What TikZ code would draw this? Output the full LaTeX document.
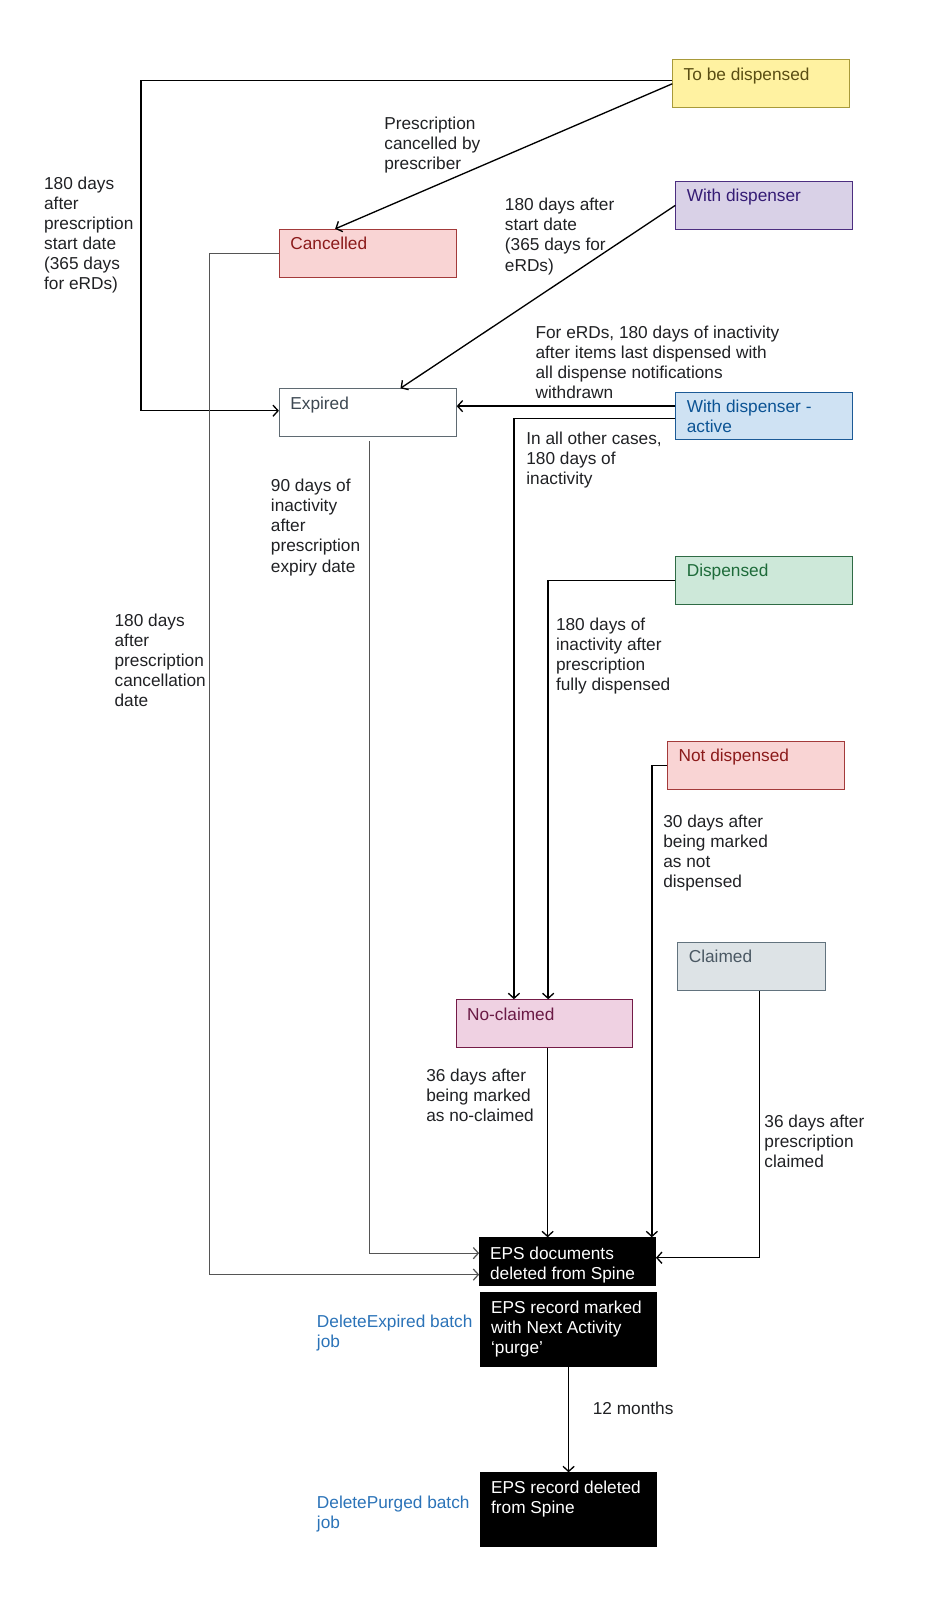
\documentclass[tikz,border=0pt]{standalone}
\usepackage{fontspec}
\setmainfont{Liberation Sans}
\usetikzlibrary{arrows.meta,calc}
\newcommand\lblfont{\fontsize{16.9}{19.6}\selectfont}
\definecolor{txt}{HTML}{202124}
\definecolor{ylwF}{HTML}{FFF2A1}\definecolor{ylwD}{HTML}{A89A3A}\definecolor{ylwT}{HTML}{5A4E14}
\definecolor{purF}{HTML}{D9D1E7}\definecolor{purD}{HTML}{4C2E80}\definecolor{purT}{HTML}{351C75}
\definecolor{redF}{HTML}{F9D4D4}\definecolor{redD}{HTML}{A33A3A}\definecolor{redT}{HTML}{8B1A1A}
\definecolor{gryD}{HTML}{5F6A72}\definecolor{gryT}{HTML}{3D4852}
\definecolor{bluF}{HTML}{CFE2F3}\definecolor{bluD}{HTML}{1C5A96}\definecolor{bluT}{HTML}{0B5394}
\definecolor{grnF}{HTML}{CDE8D9}\definecolor{grnD}{HTML}{2F6B45}\definecolor{grnT}{HTML}{1E6B3A}
\definecolor{clF}{HTML}{DDE3E6}\definecolor{clD}{HTML}{62737E}\definecolor{clT}{HTML}{4A5863}
\definecolor{magF}{HTML}{EFD1E2}\definecolor{magD}{HTML}{741B47}\definecolor{magT}{HTML}{6A1A45}
\definecolor{batch}{HTML}{2B73B8}
\definecolor{lgray}{HTML}{555555}
\tikzset{
  box/.style={rectangle, anchor=north west, inner sep=0pt, line width=1pt, minimum width=173pt, minimum height=47pt},
  boxtxt/.style={anchor=north west, inner sep=0pt, align=left, font=\lblfont},
  lbl/.style={anchor=north west, inner sep=0pt, align=left, font=\lblfont, text=txt},
  arr/.style={-{Straight Barb[length=5pt,width=11pt]}},
  blk/.style={draw=black, line width=1.3pt},
  gry/.style={draw=lgray, line width=1.2pt},
}
\begin{document}
\begin{tikzpicture}[x=1pt,y=-1pt]
\useasboundingbox (0,0) rectangle (915,1566);

% state boxes
\node[box, fill=ylwF, draw=ylwD] (tbd) at (658,58) {};
\node[boxtxt, text=ylwT] (tbdT) at ([shift={(11,8)}]tbd.north west) {To be dispensed};
\node[box, fill=purF, draw=purD] (wd) at (661,177) {};
\node[boxtxt, text=purT] (wdT) at ([shift={(11,8)}]wd.north west) {With dispenser};
\node[box, fill=redF, draw=redD] (canc) at (273,224) {};
\node[boxtxt, text=redT] (cancT) at ([shift={(11,8)}]canc.north west) {Cancelled};
\node[box, fill=white, draw=gryD] (exp) at (273,380) {};
\node[boxtxt, text=gryT] (expT) at ([shift={(11,8)}]exp.north west) {Expired};
\node[box, fill=bluF, draw=bluD, minimum height=46pt] (wda) at (661,384) {};
\node[boxtxt, text=bluT] (wdaT) at ([shift={(11,7)}]wda.north west) {With dispenser -\\active};
\node[box, fill=grnF, draw=grnD] (disp) at (661,544) {};
\node[boxtxt, text=grnT] (dispT) at ([shift={(11,8)}]disp.north west) {Dispensed};
\node[box, fill=redF, draw=redD] (nd) at (653,725) {};
\node[boxtxt, text=redT] (ndT) at ([shift={(11,8)}]nd.north west) {Not dispensed};
\node[box, fill=clF, draw=clD, minimum width=144pt] (cl) at (663,922) {};
\node[boxtxt, text=clT] (clT) at ([shift={(11,8)}]cl.north west) {Claimed};
\node[box, fill=magF, draw=magD] (noc) at (446,978) {};
\node[boxtxt, text=magT] (nocT) at ([shift={(11,8)}]noc.north west) {No-claimed};

% black boxes
\node[box, fill=black, draw=black, minimum width=172pt] (eps1) at (469,1211) {};
\node[boxtxt, text=white] (eps1T) at ([shift={(10.5,9)}]eps1.north west) {EPS documents\\deleted from Spine};
\node[box, fill=black, draw=black, minimum width=172pt, minimum height=72pt] (eps2) at (470,1265) {};
\node[boxtxt, text=white] (eps2T) at ([shift={(10.5,8)}]eps2.north west) {EPS record marked\\with Next Activity\\‘purge’};
\node[box, fill=black, draw=black, minimum width=172pt, minimum height=72pt] (eps3) at (470,1441) {};
\node[boxtxt, text=white] (eps3T) at ([shift={(10.5,8)}]eps3.north west) {EPS record deleted\\from Spine};

% batch labels
\node[lbl, text=batch] (b1) at (310,1287) {DeleteExpired batch\\job};
\node[lbl, text=batch] (b2) at (310,1464) {DeletePurged batch\\job};

% connectors
\draw[blk,arr] ([shift={(0,-3)}]tbd.west) -- ++(-520,0) |- ([shift={(0,-2)}]exp.west);
\draw[blk,arr] (tbd.west) -- ([shift={(-32,0)}]canc.north);
\draw[blk,arr] (wd.west) -- ([shift={(32,0)}]exp.north);
\coordinate (wdaA) at ([shift={(0,-10)}]wda.west);
\draw[blk,arr] (wdaA) -- (wdaA -| exp.east);
\draw[blk,arr] ([shift={(0,2)}]wda.west) -| ([shift={(-30,0)}]noc.north);
\draw[blk,arr] (disp.west) -| ([shift={(3.5,0)}]noc.north);
\draw[blk,arr] (nd.west) -| ([shift={(-4,0)}]eps1.north east);
\draw[blk,arr] ([shift={(8,0)}]cl.south) |- ([shift={(0,-4)}]eps1.east);
\coordinate (nocB) at ([shift={(3,0)}]noc.south);
\draw[blk,arr] (nocB) -- (nocB |- eps1.north);
\draw[gry,arr] ([shift={(1.5,4)}]exp.south) |- ([shift={(0,-8.5)}]eps1.west);
\draw[gry,arr] (canc.west) -- ++(-68,0) |- ([shift={(0,12.5)}]eps1.west);
\draw[blk,arr] (eps2.south) -- (eps3.north);

% connector labels
\node[lbl] (l1) at (43,173) {180 days\\after\\prescription\\start date\\(365 days\\for eRDs)};
\node[lbl] (l2) at (376,114) {Prescription\\cancelled by\\prescriber};
\node[lbl] (l3) at (494,194) {180 days after\\start date\\(365 days for\\eRDs)};
\node[lbl] (l4) at (524,319) {For eRDs, 180 days of inactivity\\after items last dispensed with\\all dispense notifications\\withdrawn};
\node[lbl] (l5) at (515,423) {In all other cases,\\180 days of\\inactivity};
\node[lbl] (l6) at (265,469) {90 days of\\inactivity\\after\\prescription\\expiry date};
\node[lbl] (l7) at (112,601) {180 days\\after\\prescription\\cancellation\\date};
\node[lbl] (l8) at (544,605) {180 days of\\inactivity after\\prescription\\fully dispensed};
\node[lbl] (l9) at (649,797) {30 days after\\being marked\\as not\\dispensed};
\node[lbl] (l10) at (417,1046) {36 days after\\being marked\\as no-claimed};
\node[lbl] (l11) at (748,1091) {36 days after\\prescription\\claimed};
\node[lbl] (l12) at (580,1372) {12 months};
\end{tikzpicture}
\end{document}
